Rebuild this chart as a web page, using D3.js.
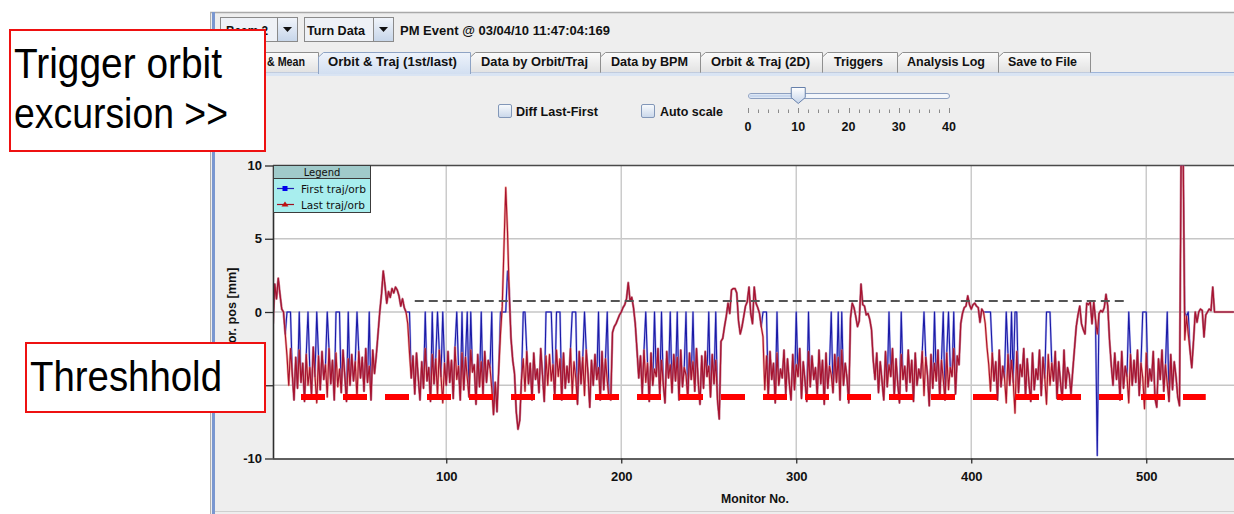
<!DOCTYPE html>
<html><head><meta charset="utf-8">
<script src="https://cdn.jsdelivr.net/npm/d3@7"></script>
<style>html,body{margin:0;padding:0;background:#fff;overflow:hidden}</style>
</head><body>
<svg id="c" width="1234" height="514"></svg>
<script>
// ---------------- DATA ----------------
// Horizontal position [mm] per monitor (monitor No. 1..550)
const lastTraj = [
-0.8,1.9,0.9,2.3,1.2,0.2,0.0,-1.5,-3.0,-5.0,
-2.5,-4.2,-6.0,-3.1,-5.2,-2.6,-4.8,-3.5,-6.1,-2.9,
-5.0,-3.8,-5.6,-2.4,-4.4,-6.2,-3.0,-5.3,-2.7,-4.6,
-3.6,-5.8,-2.5,-4.9,-3.3,-6.0,-2.8,-5.1,-3.9,-5.5,
-2.6,-4.3,-6.1,-3.2,-5.0,-2.9,-4.7,-3.4,-5.9,-2.7,
-4.5,-3.1,-5.4,-2.5,-4.8,-3.7,-6.0,-2.6,-4.2,-3.0,
-1.5,0.0,1.2,2.8,1.8,0.6,1.4,1.0,1.6,1.3,
1.7,1.5,1.1,0.4,0.9,0.3,0.0,-0.8,-2.8,-4.5,
-3.0,-5.6,-2.8,-4.5,-6.0,-3.4,-5.2,-2.5,-4.7,-3.8,
-6.1,-2.9,-4.9,-3.2,-5.7,-2.6,-4.4,-6.2,-3.5,-5.0,
-2.7,-4.8,-3.3,-5.9,-2.4,-4.6,-3.7,-6.0,-2.8,-5.3,
-3.1,-4.5,-5.8,-2.6,-4.1,-3.6,-6.3,-2.9,-5.1,-3.4,
-5.6,-2.7,-4.8,-3.3,-3.8,-5.2,-7.0,-4.8,-6.8,-3.9,
-1.5,0.4,4.5,8.5,5.5,1.2,-1.8,-3.3,-4.2,-6.8,
-8.0,-7.4,-4.6,-3.2,-5.4,-2.7,-4.9,-3.5,-6.0,-2.8,
-4.6,-3.9,-5.5,-2.5,-4.3,-6.1,-3.0,-5.0,-2.9,-4.7,
-3.6,-5.8,-2.6,-4.4,-3.2,-6.0,-2.8,-5.2,-3.7,-4.8,
-2.5,-5.6,-3.4,-4.5,-6.3,-2.7,-4.9,-3.1,-5.7,-2.6,
-4.2,-6.5,-3.3,-5.0,-2.9,-4.6,-3.8,-6.0,-2.7,-5.3,
-3.2,-4.7,-5.9,-6.0,-1.4,-1.0,-0.8,-0.5,-0.2,0.0,
0.3,0.5,0.9,2.0,0.8,1.0,0.3,-0.8,-2.6,-4.5,
-3.0,-5.6,-2.6,-4.8,-3.5,-6.1,-2.8,-5.0,-3.9,-4.4,
-2.5,-5.7,-3.3,-4.9,-6.2,-2.7,-4.5,-3.6,-5.5,-2.9,
-4.7,-3.1,-6.0,-2.6,-5.1,-3.8,-4.3,-5.9,-2.8,-4.6,
-3.4,-5.4,-2.5,-4.8,-6.3,-3.0,-5.2,-2.7,-4.4,-3.7,
-5.8,-2.9,-4.9,-3.3,-6.0,-7.3,-2.0,-1.8,-1.0,-0.3,
0.6,-0.1,1.5,1.6,1.6,1.3,-0.6,-1.5,-1.0,-0.3,
0.4,0.7,1.7,-0.1,-0.8,1.7,0.6,0.3,-0.1,-1.0,
-1.7,-5.3,-3.0,-5.8,-2.7,-4.6,-3.5,-6.2,-2.8,-5.0,
-3.9,-4.5,-2.6,-5.6,-3.2,-4.8,-6.0,-2.9,-5.3,-3.6,
-4.4,-2.5,-5.9,-3.4,-4.7,-6.1,-2.7,-5.1,-3.0,-4.6,
-3.8,-5.7,-2.6,-4.9,-3.3,-6.3,-2.8,-5.2,-3.7,-4.3,
-5.5,-2.9,-4.8,-3.1,-6.0,-2.6,-5.0,-3.5,-4.5,-6.2,
-0.4,0.6,0.3,-0.3,-1.0,-0.6,1.9,0.5,0.4,-0.2,
-0.1,-0.5,-1.2,-3.3,-4.6,-2.8,-5.5,-3.4,-4.7,-6.0,
-2.7,-5.1,-3.6,-4.4,-2.5,-5.8,-3.2,-4.9,-6.2,-2.9,
-4.6,-3.7,-5.4,-2.6,-4.8,-3.3,-6.1,-2.8,-5.0,-3.9,
-4.5,-2.7,-5.7,-3.1,-4.3,-6.4,-2.9,-5.2,-3.5,-4.7,
-2.6,-5.9,-3.3,-4.6,-6.0,-2.8,-5.3,-3.8,-4.4,-2.5,
-5.6,-3.0,-3.6,-0.8,-0.1,0.3,0.4,1.1,0.5,0.2,
0.5,0.6,0.4,0.3,-0.7,0.2,0.0,-0.8,-2.4,-3.6,
-5.4,-2.8,-4.7,-3.4,-6.0,-2.6,-5.1,-3.7,-4.5,-6.2,
-2.9,-5.0,-3.3,-4.8,-6.9,-2.7,-5.5,-3.6,-4.4,-2.5,
-5.8,-3.2,-4.9,-6.1,-2.8,-5.3,-3.9,-4.6,-2.6,-5.7,
-3.1,-4.5,-6.3,-2.9,-5.0,-3.5,-4.7,-2.7,-5.9,-3.4,
-4.8,-6.0,-2.6,-5.2,-3.8,-4.3,-5.6,-4.0,-2.5,-1.0,
-0.2,0.4,-0.8,-1.2,-1.5,0.6,0.5,0.7,-0.8,0.7,
-0.5,-1.5,-0.1,0.1,0.0,0.3,1.2,0.4,-1.9,-3.6,
-5.0,-2.8,-4.6,-3.4,-6.0,-2.7,-5.2,-3.7,-4.4,-6.2,
-2.9,-5.0,-3.3,-4.8,-2.6,-5.7,-3.5,-4.5,-6.6,-2.8,
-5.1,-3.9,-4.7,-2.7,-5.9,-6.5,-3.2,-4.6,-2.6,-5.4,
-3.6,-4.9,-6.1,-2.9,-5.3,-3.4,-4.4,-5.8,-6.4,12,
12,-1.9,-0.3,-1.5,-2.6,-3.8,-2.0,0.0,-0.7,0.0,
0.2,0.1,-1.7,-0.2,0.0,0.2,0.1,1.7,0.0,0.0,
0,0,0,0,0,0,0,0,0,0
];
const firstTraj = [
-0.8,1.9,0.9,2.3,1.2,0.2,0.0,-1.5,0,0,
0,-4.2,-6.0,-3.1,-5.2,0,-4.8,-3.5,-6.1,-2.9,
0,-3.8,-5.6,-2.4,-4.4,0,-3.0,-5.3,-2.7,-4.6,
-3.6,0,-2.5,-4.9,-3.3,-6.0,0,0,0,-5.5,
-2.6,-4.3,-6.1,0,-5.0,-2.9,-4.7,-3.4,0,-2.7,
-4.5,-3.1,-5.4,-2.5,-4.8,0,-6.0,-2.6,-4.2,-3.0,
-1.5,0.0,1.2,2.8,1.8,0.6,1.4,1.0,1.6,1.3,
1.7,1.5,1.1,0.4,0.9,0.3,0.0,0,0,-4.5,
-3.0,-5.6,-2.8,-4.5,-6.0,-3.4,-5.2,0,-4.7,-3.8,
-6.1,0,-4.9,-3.2,0,-2.6,-4.4,0,-3.5,-5.0,
-2.7,-4.8,-3.3,-5.9,-2.4,0,-3.7,-6.0,0,-5.3,
-3.1,0,-5.8,0,-4.1,-3.6,-6.3,-2.9,-5.1,0,
-5.6,-2.7,-4.8,-3.3,-3.8,0,-7.0,-4.8,-6.8,-3.9,
0,0,0,0,2.8,1.5,-1.8,-3.3,-4.2,-6.8,
-8.0,-7.4,-4.6,0,0,-2.7,-4.9,-3.5,-6.0,-2.8,
-4.6,-3.9,-5.5,-2.5,-4.3,-6.1,0,0,0,0,
-3.6,-5.8,0,0,0,-6.0,-2.8,-5.2,-3.7,-4.8,
-2.5,0,0,0,-6.3,-2.7,-4.9,-3.1,0,-2.6,
-4.2,-6.5,-3.3,-5.0,-2.9,-4.6,0,-6.0,-2.7,-5.3,
-3.2,0,-5.9,-6.0,-1.4,-1.0,-0.8,-0.5,-0.2,0.0,
0.3,0.5,0.9,2.0,0.8,1.0,0.3,-0.8,-2.6,-4.5,
-3.0,-5.6,-2.6,0,-3.5,-6.1,-2.8,-5.0,0,-4.4,
-2.5,-5.7,0,-4.9,-6.2,-2.7,-4.5,0,-5.5,-2.9,
-4.7,0,-6.0,-2.6,-5.1,-3.8,0,-5.9,-2.8,-4.6,
0,-5.4,-2.5,-4.8,-6.3,-3.0,-5.2,-2.7,-4.4,0,
-5.8,-2.9,-4.9,0,-6.0,-7.3,-2.0,-1.8,-1.0,-0.3,
0.6,-0.1,1.5,1.6,1.6,1.3,-0.6,-1.5,-1.0,-0.3,
0.4,0.7,1.7,-0.1,-0.8,1.7,0.6,0.3,-0.1,-1.0,
0,0,0,-5.8,-2.7,-4.6,-3.5,-6.2,0,-5.0,
-3.9,-4.5,-2.6,-5.6,-3.2,-4.8,-6.0,-2.9,-5.3,0,
-4.4,-2.5,-5.9,-3.4,-4.7,-6.1,0,-5.1,-3.0,-4.6,
-3.8,-5.7,-2.6,-4.9,-3.3,-6.3,-2.8,-5.2,-3.7,0,
-5.5,-2.9,-4.8,0,-6.0,0,-5.0,-3.5,-4.5,-6.2,
-0.4,0.6,0.3,-0.3,-1.0,-0.6,1.9,0.5,0.4,-0.2,
-0.1,-0.5,-1.2,-3.3,-4.6,-2.8,-5.5,-3.4,-4.7,-6.0,
-2.7,-5.1,0,-4.4,-2.5,-5.8,-3.2,-4.9,-6.2,0,
-4.6,-3.7,-5.4,-2.6,-4.8,-3.3,-6.1,-2.8,-5.0,-3.9,
-4.5,-2.7,0,-3.1,-4.3,-6.4,-2.9,-5.2,0,-4.7,
-2.6,-5.9,-3.3,0,-6.0,-2.8,0,-3.8,-4.4,0,
-5.6,-3.0,-3.6,-0.8,-0.1,0.3,0.4,1.1,0.5,0.2,
0.5,0.6,0.4,0.3,-0.7,0.2,0.0,0,0,0,
0,-2.8,-4.7,-3.4,-6.0,-2.6,-5.1,-3.7,-4.5,0,
-2.9,-5.0,0,-4.8,0,0,-5.5,-3.6,-4.4,-2.5,
-5.8,-3.2,-4.9,-6.1,-2.8,-5.3,-3.9,-4.6,-2.6,-5.7,
-3.1,-4.5,0,0,0,-3.5,-4.7,-2.7,-5.9,-3.4,
-4.8,-6.0,-2.6,-5.2,-3.8,-4.3,-5.6,-4.0,-2.5,-1.0,
-0.2,0.4,-0.8,-1.2,-1.5,0.6,0.5,0.7,-0.8,0.7,
-0.5,-9.8,-0.1,0.1,0.0,0.3,1.2,0.4,-1.9,-3.6,
-5.0,-2.8,-4.6,-3.4,-6.0,-2.7,-5.2,-3.7,-4.4,0,
-2.9,-5.0,-3.3,-4.8,-2.6,-5.7,-3.5,0,0,0,
-5.1,-3.9,-4.7,-2.7,-5.9,-6.5,-3.2,-4.6,-2.6,-5.4,
-3.6,0,-6.1,-2.9,-5.3,-3.4,-4.4,-5.8,-6.4,12,
12,0,-0.3,0,-2.6,-3.8,-2.0,0.0,-0.7,0.0,
0.2,0.1,-1.7,-0.2,0.0,0.2,0.1,1.7,0.0,0.0,
0,0,0,0,0,0,0,0,0,0
];
const seriesNames = ["First traj/orb", "Last traj/orb"];
const xTicks = [100, 200, 300, 400, 500];
const yTicks = [-10, -5, 0, 5, 10];
const thresholdLevel = -5.8;          // mm
const thresholdSpan = [17, 534];      // monitors
const triggerLevel = 0.75;            // mm
const triggerSpan = [82, 490];        // monitors
const tabLabels = ["& Mean", "Orbit & Traj (1st/last)", "Data by Orbit/Traj", "Data by BPM", "Orbit & Traj (2D)", "Triggers", "Analysis Log", "Save to File"];
const sliderTicks = [0, 10, 20, 30, 40];
const sliderValue = 10;

// ---------------- DRAWING ----------------
const UI = "'Liberation Sans', Arial, sans-serif";
const svg = d3.select("#c");
const defs = svg.append("defs");
function grad(id, c1, c2) {
  const g = defs.append("linearGradient").attr("id", id).attr("x1", 0).attr("y1", 0).attr("x2", 0).attr("y2", 1);
  g.append("stop").attr("offset", "0%").attr("stop-color", c1);
  g.append("stop").attr("offset", "100%").attr("stop-color", c2);
}
grad("tabG", "#fbfbfb", "#e2e2e2");
grad("selG", "#eef3fb", "#d2dff1");
grad("btnG", "#f1f5fb", "#c6d5e9");
grad("chkG", "#f9fbfd", "#c9d7ea");
grad("thG", "#ffffff", "#c5d4ea");

function txt(g, s, x, y, o = {}) {
  const t = g.append("text").attr("x", x).attr("y", y).text(s)
    .attr("font-family", o.family || UI)
    .attr("font-size", o.size || 12.5)
    .attr("font-weight", o.weight || "bold")
    .attr("fill", o.fill || "#111")
    .attr("text-anchor", o.anchor || "start");
  if (o.len) t.attr("textLength", o.len).attr("lengthAdjust", "spacingAndGlyphs");
  return t;
}

svg.append("rect").attr("width", 1234).attr("height", 514).attr("fill", "#fff");
// application panel
svg.append("rect").attr("x", 210).attr("y", 12).attr("width", 1024).attr("height", 502).attr("fill", "#eeeeee");
svg.append("line").attr("x1", 210).attr("x2", 1234).attr("y1", 12.5).attr("y2", 12.5).attr("stroke", "#a9a9a9").attr("stroke-width", 1.5);
svg.append("rect").attr("x", 210).attr("y", 12).attr("width", 1).attr("height", 502).attr("fill", "#b0b0b0");
svg.append("rect").attr("x", 212).attr("y", 12).attr("width", 3).attr("height", 502).attr("fill", "#7a97d0");
svg.append("line").attr("x1", 215).attr("x2", 1234).attr("y1", 511.5).attr("y2", 511.5).attr("stroke", "#cfcfcf");

const ui = svg.append("g");
// combo boxes
function combo(x, w, label, tx, tw) {
  ui.append("rect").attr("x", x + 0.5).attr("y", 17.5).attr("width", w).attr("height", 24).attr("fill", "#eef1f6").attr("stroke", "#8a8a8a");
  ui.append("rect").attr("x", x + w + 0.5).attr("y", 17.5).attr("width", 20).attr("height", 24).attr("fill", "url(#btnG)").attr("stroke", "#8a8a8a");
  const cx = x + w + 10.5;
  ui.append("path").attr("d", `M${cx - 4.5},27 L${cx + 4.5},27 L${cx},32 Z`).attr("fill", "#111");
  txt(ui, label, tx, 34.5, { len: tw });
}
combo(220, 57, "Beam 2", 226, 42);
combo(304, 69, "Turn Data", 307, 58);
txt(ui, "PM Event @ 03/04/10 11:47:04:169", 400, 34.5, { len: 210 });

// tabs
const tabX = [218, 318, 470, 600, 700, 822, 897, 998, 1090];
const tabTextW = [38, 129, 107, 77, 99, 49, 78, 69];
const tabTextX = [267, 328, 481, 611, 711, 834, 907, 1008];
const selected = 1;
ui.append("rect").attr("x", 213).attr("y", 72).attr("width", 1021).attr("height", 4).attr("fill", "#d9e4f3");
ui.append("line").attr("x1", 213).attr("x2", 1234).attr("y1", 72.5).attr("y2", 72.5).attr("stroke", "#9fb5d9");
function tab(i) {
  const x0 = tabX[i] + 0.5, x1 = tabX[i + 1] + 0.5, sel = i === selected;
  ui.append("path").attr("d", `M${x0},${sel ? 74 : 72.5} L${x0},57 L${x0 + 5},52.5 L${x1},52.5 L${x1},${sel ? 74 : 72.5}`)
    .attr("fill", sel ? "url(#selG)" : "url(#tabG)").attr("stroke", sel ? "#8ea3c4" : "#8f8f8f");
  txt(ui, tabLabels[i], tabTextX[i], 66, { len: tabTextW[i] });
}
tabLabels.forEach((d, i) => { if (i !== selected) tab(i); });
tab(selected);

// checkboxes
function check(x, label, tx, tw) {
  ui.append("rect").attr("x", x + 0.5).attr("y", 104.5).attr("width", 13).attr("height", 13).attr("rx", 1.5)
    .attr("fill", "url(#chkG)").attr("stroke", "#8297b8");
  txt(ui, label, tx, 115.5, { len: tw });
}
check(498, "Diff Last-First", 516, 82);
check(641, "Auto scale", 660, 63);

// slider
const sx = d3.scaleLinear().domain([0, 40]).range([748, 949]);
ui.append("rect").attr("x", 748.5).attr("y", 93.5).attr("width", 201).attr("height", 5).attr("rx", 2.5)
  .attr("fill", "#f3f6fb").attr("stroke", "#8c9fc0");
ui.append("rect").attr("x", 749.5).attr("y", 94.5).attr("width", sx(sliderValue) - 750).attr("height", 3).attr("fill", "#c8d7ee");
ui.selectAll(".st").data(d3.range(0, 41, 2)).enter().append("line")
  .attr("x1", d => Math.round(sx(d)) + 0.5).attr("x2", d => Math.round(sx(d)) + 0.5)
  .attr("y1", d => d % 10 === 0 ? 108 : 109.5).attr("y2", 113).attr("stroke", "#8a8a8a");
sliderTicks.forEach(d => txt(ui, String(d), sx(d), 131, { anchor: "middle", size: 12.5 }));
const tx0 = sx(sliderValue);
ui.append("path").attr("d", `M${tx0 - 7},87.5 L${tx0 + 7},87.5 L${tx0 + 7},97.5 L${tx0},103.5 L${tx0 - 7},97.5 Z`)
  .attr("fill", "url(#thG)").attr("stroke", "#6680ab");

// ---------------- CHART ----------------
const L = 273, R = 1234, T = 165.5, B = 458.5;
const x = d3.scaleLinear().domain([1, 551]).range([L, L + 550 * 1.75]);
const y = d3.scaleLinear().domain([-10, 10]).range([B, T]);
const chart = svg.append("g");
chart.append("rect").attr("x", L).attr("y", T).attr("width", R - L).attr("height", B - T).attr("fill", "#fff");
defs.append("clipPath").attr("id", "plotClip").append("rect").attr("x", L).attr("y", T).attr("width", R - L).attr("height", B - T);

// grid
chart.selectAll(".gy").data(yTicks.filter(d => d > -10 && d < 10)).enter().append("line")
  .attr("x1", L).attr("x2", R).attr("y1", d => y(d)).attr("y2", d => y(d)).attr("stroke", "#c6c6c6").attr("stroke-width", 1.3);
chart.selectAll(".gx").data(xTicks).enter().append("line")
  .attr("x1", d => x(d)).attr("x2", d => x(d)).attr("y1", T).attr("y2", B).attr("stroke", "#cbcbcb").attr("stroke-width", 1.5);
chart.append("line").attr("x1", L).attr("x2", R).attr("y1", T).attr("y2", T).attr("stroke", "#4a4a4a").attr("stroke-width", 1.3);

// data lines
const firstPts = firstTraj.map((v, i) => [i + 1, v]);
const lastPts = lastTraj.map((v, i) => [i + 1, v]);
const line = d3.line().x(d => x(d[0])).y(d => y(d[1]));
const dl = chart.append("g").attr("clip-path", "url(#plotClip)");
dl.append("path").attr("d", line(firstPts)).attr("fill", "none").attr("stroke", "#7a7ae6").attr("stroke-width", 2.2).attr("stroke-opacity", 0.55).attr("stroke-linejoin", "round");
dl.append("path").attr("d", line(firstPts)).attr("fill", "none").attr("stroke", "#1a1aa6").attr("stroke-width", 1.1).attr("stroke-linejoin", "round");
dl.append("path").attr("d", line(lastPts)).attr("fill", "none").attr("stroke", "#ee7a62").attr("stroke-width", 2.4).attr("stroke-opacity", 0.6).attr("stroke-linejoin", "round");
dl.append("path").attr("d", line(lastPts)).attr("fill", "none").attr("stroke", "#a8122e").attr("stroke-width", 1.15).attr("stroke-linejoin", "round");

// trigger level (gray dashed) and threshold (thick red dashed)
chart.append("line").attr("x1", x(triggerSpan[0])).attr("x2", x(triggerSpan[1]))
  .attr("y1", y(triggerLevel)).attr("y2", y(triggerLevel))
  .attr("stroke", "#555").attr("stroke-width", 2).attr("stroke-dasharray", "9,5");
chart.append("line").attr("x1", x(thresholdSpan[0])).attr("x2", x(thresholdSpan[1]))
  .attr("y1", y(thresholdLevel)).attr("y2", y(thresholdLevel))
  .attr("stroke", "#ff0000").attr("stroke-width", 6).attr("stroke-dasharray", "24,18");

// axes
const ax = chart.append("g").attr("transform", `translate(0,${B})`)
  .call(d3.axisBottom(x).tickValues(xTicks).tickSize(5).tickPadding(8).tickFormat(d => String(d)));
const ay = chart.append("g").attr("transform", `translate(${L},0)`)
  .call(d3.axisLeft(y).tickValues(yTicks).tickSize(8).tickPadding(3).tickFormat(d => String(d)));
[ax, ay].forEach(a => {
  a.select(".domain").attr("stroke", "#2e2e2e").attr("stroke-width", 1.6);
  a.selectAll(".tick line").attr("stroke", "#2e2e2e").attr("stroke-width", 1.3);
  a.selectAll(".tick text").attr("font-family", UI).attr("font-weight", "bold").attr("font-size", 13).attr("fill", "#111");
});
ax.select(".domain").attr("d", `M${L},0.5H${R}`);
ay.select(".domain").attr("d", `M0.5,${B}V${T}`);
txt(chart, "Monitor No.", 755, 502.5, { anchor: "middle", len: 68 });
txt(chart, "Hor. pos [mm]", 0, 0, { anchor: "middle", len: 85 }).attr("transform", "translate(235.5,310) rotate(-90)");

// legend
const lg = chart.append("g");
lg.append("rect").attr("x", 273.5).attr("y", 165.5).attr("width", 97).attr("height", 47).attr("fill", "#a8eeee").attr("stroke", "#3c3c3c");
lg.append("rect").attr("x", 273.5).attr("y", 165.5).attr("width", 97).attr("height", 13).attr("fill", "#a0caca").attr("stroke", "#3c3c3c");
txt(lg, "Legend", 322, 176, { anchor: "middle", family: "'DejaVu Sans', sans-serif", size: 10, weight: "normal" });
const LF = { family: "'DejaVu Sans', sans-serif", size: 10.5, weight: "normal" };
lg.append("line").attr("x1", 277).attr("x2", 294).attr("y1", 188.5).attr("y2", 188.5).attr("stroke", "#2020b0").attr("stroke-width", 1.2);
lg.append("rect").attr("x", 282.5).attr("y", 186).attr("width", 5).attr("height", 5).attr("fill", "#0000ee");
txt(lg, seriesNames[0], 301, 192.5, Object.assign({ len: 65 }, LF));
lg.append("line").attr("x1", 277).attr("x2", 294).attr("y1", 204.5).attr("y2", 204.5).attr("stroke", "#a01020").attr("stroke-width", 1.2);
lg.append("path").attr("d", "M285,201.5 L288.5,206.5 L281.5,206.5 Z").attr("fill", "#c01010");
txt(lg, seriesNames[1], 301, 208.5, Object.assign({ len: 64 }, LF));

// annotation boxes
const an = svg.append("g");
const AF = { family: "'Liberation Sans', Arial, sans-serif", size: 43, weight: "normal", fill: "#000" };
an.append("rect").attr("x", 10).attr("y", 30).attr("width", 255).attr("height", 121).attr("fill", "#fff").attr("stroke", "#ee1111").attr("stroke-width", 2);
txt(an, "Trigger orbit", 14, 78, Object.assign({ len: 208 }, AF));
txt(an, "excursion >>", 14, 128, Object.assign({ len: 214 }, AF));
an.append("rect").attr("x", 26).attr("y", 343).attr("width", 239).attr("height", 69).attr("fill", "#fff").attr("stroke", "#ee1111").attr("stroke-width", 2);
txt(an, "Threshhold", 30, 391, Object.assign({ len: 192 }, AF));
</script>
</body></html>
